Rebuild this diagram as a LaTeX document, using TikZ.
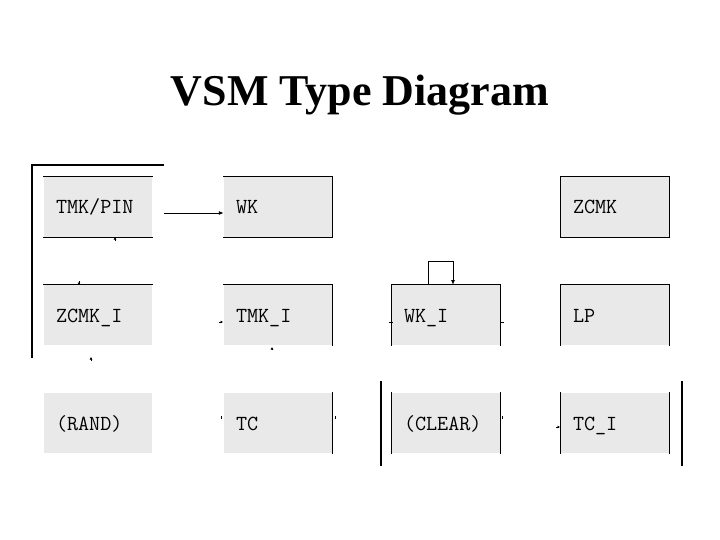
\documentclass[tikz,border=0pt]{standalone}
\usepackage{fontspec}
\setmainfont{Liberation Serif}
\usetikzlibrary{arrows.meta}
\definecolor{boxfill}{RGB}{233,233,233}
\tikzset{
  vbox/.style={fill=boxfill, draw=none, minimum height=60pt, text width=84pt,
    text height=14pt, text depth=0pt,
    inner xsep=12pt, inner ysep=0pt, align=left, font=\ttfamily\fontsize{21.5}{21.5}\selectfont},
  edge/.style={line width=1.1pt, line cap=rect},
  conn/.style={line width=0.9pt, -{Latex[length=5pt,width=4pt]}},
  tick/.style={line width=0.8pt, -{Latex[length=2.5pt,width=3pt]}},
}
\begin{document}
\begin{tikzpicture}[x=1pt,y=-1pt]
\useasboundingbox[fill=white] (0,0) rectangle (720,540);
\node[font=\bfseries\fontsize{44}{44}\selectfont, anchor=base] (title) at (360,106) {VSM Type Diagram};

% boxes
\node[vbox] (tmkpin) at (98,207) {TMK/PIN};
\node[vbox] (wk)     at (278,207) {WK};
\node[vbox] (zcmk)   at (615,207) {ZCMK};
\node[vbox] (zcmki)  at (98,315) {ZCMK\_I};
\node[vbox] (tmki)   at (278,315) {TMK\_I};
\node[vbox] (wki)    at (446,315) {WK\_I};
\node[vbox] (lp)     at (615,315) {LP};
\node[vbox] (rand)   at (98,423) {(RAND)};
\node[vbox] (tc)     at (278,423) {TC};
\node[vbox] (clear)  at (446,423) {(CLEAR)};
\node[vbox] (tci)    at (615,423) {TC\_I};

% borders
\draw[edge] (tmkpin.north west) -- (tmkpin.north east);
\draw[edge] (tmkpin.south west) -- (tmkpin.south east);
\draw[edge] (wk.north west) -- (wk.north east) -- (wk.south east) -- (wk.south west);
\draw[edge] (zcmk.north west) rectangle (zcmk.south east);
\draw[edge] (zcmki.north west) -- (zcmki.north east);
\draw[edge] (tmki.north west) -- (tmki.north east) -- (tmki.south east);
\draw[edge] (wki.south west) -- (wki.north west) -- (wki.north east) -- (wki.south east);
\draw[edge] (lp.south west) -- (lp.north west) -- (lp.north east) -- (lp.south east);
\draw[edge] (tc.north east) -- (tc.south east);
\draw[edge] (clear.north west) -- (clear.south west);
\draw[edge] (clear.north east) -- (clear.south east);
\draw[edge] (tci.north west) -- (tci.south west);
\draw[edge] (tci.north east) -- (tci.south east);

% long vertical lines and left bracket
\coordinate (va) at (381,382);
\coordinate (vb) at (381,465);
\coordinate (vc) at (682,382);
\coordinate (vd) at (682,465);
\draw[edge] (va) -- (vb);
\draw[edge] (vc) -- (vd);
\coordinate (la) at (163,165);
\coordinate (lb) at (32,165);
\coordinate (lc) at (32,357);
\draw[edge] (la) -- (lb) -- (lc);

% connector TMK/PIN -> WK
\coordinate (ca) at (164,213);
\draw[conn] (ca) -- (wk.west |- ca);

% self loop on WK_I
\coordinate (sa) at (428,285);
\coordinate (sb) at (453,285);
\draw[conn] (sa) -- (428,261) -- (453,261) -- (sb);

% small arrow-tip remnants
\coordinate (t1a) at (115,241); \coordinate (t1b) at (115,237);
\draw[tick] (t1a) -- (t1b);
\coordinate (t2a) at (79,281); \coordinate (t2b) at (79,285);
\draw[tick] (t2a) -- (t2b);
\coordinate (t3a) at (219,322); \coordinate (t3b) at (223,322);
\draw[tick] (t3a) -- (t3b);
\coordinate (t4a) at (272,350); \coordinate (t4b) at (272,347);
\draw[tick] (t4a) -- (t4b);
\coordinate (t5a) at (91,361); \coordinate (t5b) at (91,357);
\draw[tick] (t5a) -- (t5b);
\coordinate (t6a) at (389,322); \coordinate (t6b) at (393,322);
\draw[line width=0.8pt] (t6a) -- (t6b);
\coordinate (t7a) at (500,322); \coordinate (t7b) at (504,322);
\draw[line width=0.8pt] (t7a) -- (t7b);
\coordinate (t8a) at (221,416); \coordinate (t8b) at (221,419);
\draw[line width=0.8pt] (t8a) -- (t8b);
\coordinate (t9a) at (335,416); \coordinate (t9b) at (335,419);
\draw[line width=0.8pt] (t9a) -- (t9b);
\coordinate (t10a) at (502,416); \coordinate (t10b) at (502,419);
\draw[line width=0.8pt] (t10a) -- (t10b);
\coordinate (t11a) at (556,427); \coordinate (t11b) at (560,427);
\draw[tick] (t11a) -- (t11b);
\end{tikzpicture}
\end{document}
